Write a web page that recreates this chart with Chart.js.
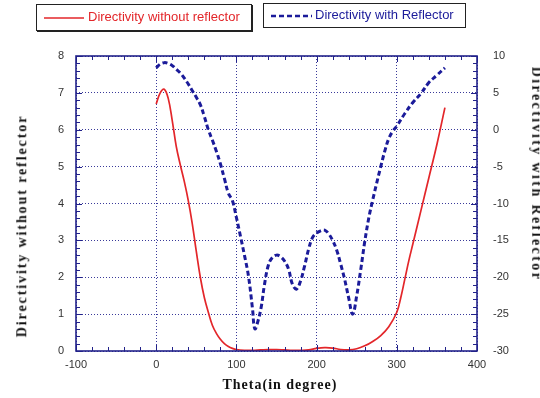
<!DOCTYPE html>
<html><head><meta charset="utf-8">
<script src="https://cdn.jsdelivr.net/npm/chart.js@4.4.0/dist/chart.umd.min.js"></script>
<style>
html,body{margin:0;padding:0;background:#fff;}
#wrap{position:relative;width:540px;height:398px;overflow:hidden;}
#c{position:absolute;left:0;top:0;}
.lg{position:absolute;background:#fff;font-family:"Liberation Sans",Arial,sans-serif;font-size:13px;box-sizing:border-box;border:1px solid #222;}
.lg svg{position:absolute;left:7px;}
.lg span{position:absolute;white-space:nowrap;}
.ttl{position:absolute;font-family:"Liberation Serif","Times New Roman",serif;font-weight:bold;font-size:14px;color:#111;white-space:nowrap;transform-origin:center center;}
</style></head>
<body>
<div id="wrap">
<canvas id="c" width="540" height="398"></canvas>
<div class="lg" style="left:36px;top:4px;width:216px;height:27px;box-shadow:1px 1px 0 #222;">
  <svg width="42" height="4" style="top:11px"><line x1="0" y1="2" x2="40" y2="2" stroke="#e3262a" stroke-width="1.5"/></svg>
  <span style="left:51px;top:4px;color:#e3262a;">Directivity without reflector</span>
</div>
<div class="lg" style="left:263px;top:3px;width:203px;height:25px;">
  <svg width="42" height="4" style="top:10px"><line x1="0" y1="2" x2="41" y2="2" stroke="#1b1b9a" stroke-width="2.5" stroke-dasharray="5,3"/></svg>
  <span style="left:51px;top:3px;color:#1b1b9a;">Directivity with Reflector</span>
</div>
<div class="ttl" id="tl" style="letter-spacing:1.9px;">Directivity without reflector</div>
<div class="ttl" id="tr" style="letter-spacing:2.4px;">Directivity with Reflector</div>
<div class="ttl" id="tb" style="letter-spacing:1px;">Theta(in degree)</div>
</div>
<script>
// ---- data ----
const thetaRed = [0,5,10,15,20,25,30,35,40,45,50,55,60,65,70,75,80,85,90,95,100,
  110,120,130,140,150,160,170,180,190,200,210,220,230,240,250,260,270,280,290,300,
  305,310,315,320,330,340,350,360];
const directivityWithout = [6.7,7.0,7.1,6.85,6.25,5.55,5.05,4.6,4.08,3.45,2.7,2.0,1.45,1.05,0.7,0.48,0.32,0.2,0.12,0.07,0.04,
  0.02,0.02,0.03,0.04,0.04,0.03,0.02,0.02,0.03,0.07,0.09,0.08,0.04,0.03,0.06,0.14,0.26,0.42,0.66,1.05,
  1.45,1.95,2.45,2.9,3.8,4.7,5.6,6.6];

const thetaBlue = [0,5,10,15,20,25,30,35,40,45,50,55,60,65,70,75,80,85,90,95,100,105,110,115,120,123,127,131,135,140,
  145,150,155,160,165,170,175,180,185,190,195,200,205,210,215,220,225,230,235,240,245,250,255,260,265,270,
  275,280,285,290,295,300,310,320,330,340,350,360];
const directivityWith = [8.4,8.9,9.1,9.0,8.7,8.2,7.7,7.0,6.2,5.3,4.4,3.4,1.8,0.0,-1.4,-2.9,-4.6,-6.6,-8.6,-9.6,-11.9,-14.4,-17.0,-19.8,-24.2,-27.0,-25.9,-24.0,-21.0,-18.3,
  -17.3,-17.0,-17.2,-17.8,-18.9,-21.0,-21.6,-20.5,-18.5,-16.2,-14.6,-14.0,-13.7,-13.6,-14.1,-15.0,-16.3,-18.2,-20.3,-22.8,-25.0,-22.5,-19.0,-15.2,-12.0,-9.5,
  -7.2,-5.0,-2.9,-1.2,-0.2,0.5,2.2,3.7,4.9,6.4,7.4,8.4];

const xTicks = [-100,0,100,200,300,400];
const yLeftTicks = [0,1,2,3,4,5,6,7,8];
const yRightTicks = [-30,-25,-20,-15,-10,-5,0,5,10];

const NAVY = '#22228a';
const tickFont = {family:'"Liberation Sans", Arial, sans-serif', size:11};

const framePlugin = {
  id:'frame',
  afterDraw(chart){
    const {ctx, chartArea:a, scales} = chart;
    const x = scales.x, yL = scales.yL, yR = scales.yR;
    ctx.save();
    ctx.strokeStyle = NAVY;
    ctx.lineWidth = 1;
    ctx.beginPath();
    for(let v=xTicks[0]; v<=xTicks[xTicks.length-1]; v+=20){
      const px = Math.round(x.getPixelForValue(v))+0.5;
      const L = (v%100===0)?6:4;
      ctx.moveTo(px,a.bottom); ctx.lineTo(px,a.bottom-L);
      ctx.moveTo(px,a.top); ctx.lineTo(px,a.top+L);
    }
    for(let i=0;i<=40;i++){
      const py = Math.round(yL.getPixelForValue(i*0.2))+0.5;
      const L = (i%5===0)?6:4;
      ctx.moveTo(a.left,py); ctx.lineTo(a.left+L,py);
    }
    for(let v=-30; v<=10; v++){
      const py = Math.round(yR.getPixelForValue(v))+0.5;
      const L = (v%5===0)?6:4;
      ctx.moveTo(a.right,py); ctx.lineTo(a.right-L,py);
    }
    ctx.stroke();
    ctx.lineWidth = 1.6;
    ctx.strokeRect(a.left,a.top,a.right-a.left,a.bottom-a.top);
    ctx.restore();
  }
};

const chart = new Chart(document.getElementById('c'), {
  type:'line',
  data:{
    datasets:[
      {label:'Directivity without reflector', yAxisID:'yL',
       data: thetaRed.map((t,i)=>({x:t,y:directivityWithout[i]})),
       borderColor:'#e3262a', borderWidth:1.7, pointRadius:0, tension:0.4, fill:false},
      {label:'Directivity with Reflector', yAxisID:'yR',
       data: thetaBlue.map((t,i)=>({x:t,y:directivityWith[i]})),
       borderColor:'#1b1b9a', borderWidth:3, borderDash:[5,3], pointRadius:0, tension:0.4, fill:false}
    ]
  },
  options:{
    responsive:false, animation:false,
    layout:{padding:{top:56,left:0,right:0,bottom:0}},
    plugins:{legend:{display:false}, tooltip:{enabled:false}},
    scales:{
      x:{type:'linear', min:-100, max:400,
         afterBuildTicks(s){ s.ticks = xTicks.map(v=>({value:v})); },
         afterFit(s){ s.height = 47; },
         ticks:{font:tickFont, color:'#333', padding:7, maxRotation:0},
         grid:{color:'#3a3a9a', lineWidth:1, drawTicks:false},
         border:{display:false, dash:[1,2]}},
      yL:{type:'linear', position:'left', min:0, max:8,
         afterBuildTicks(s){ s.ticks = yLeftTicks.map(v=>({value:v})); },
         afterFit(s){ s.width = 76; },
         ticks:{font:tickFont, color:'#333', padding:12},
         grid:{color:'#3a3a9a', lineWidth:1, drawTicks:false},
         border:{display:false, dash:[1,2]}},
      yR:{type:'linear', position:'right', min:-30, max:10,
         afterBuildTicks(s){ s.ticks = yRightTicks.map(v=>({value:v})); },
         afterFit(s){ s.width = 63; },
         ticks:{font:tickFont, color:'#333', padding:16},
         grid:{display:false, drawTicks:false},
         border:{display:false}}
    }
  },
  plugins:[framePlugin]
});

function place(id, cx, cy, rot){
  const el = document.getElementById(id);
  const w = el.offsetWidth, h = el.offsetHeight;
  el.style.left = (cx - w/2) + 'px';
  el.style.top = (cy - h/2) + 'px';
  el.style.transform = 'rotate(' + rot + 'deg)';
}
place('tl', 22, 226, -90);
place('tr', 536, 174, 90);
place('tb', 280, 385, 0);
</script>
</body></html>
